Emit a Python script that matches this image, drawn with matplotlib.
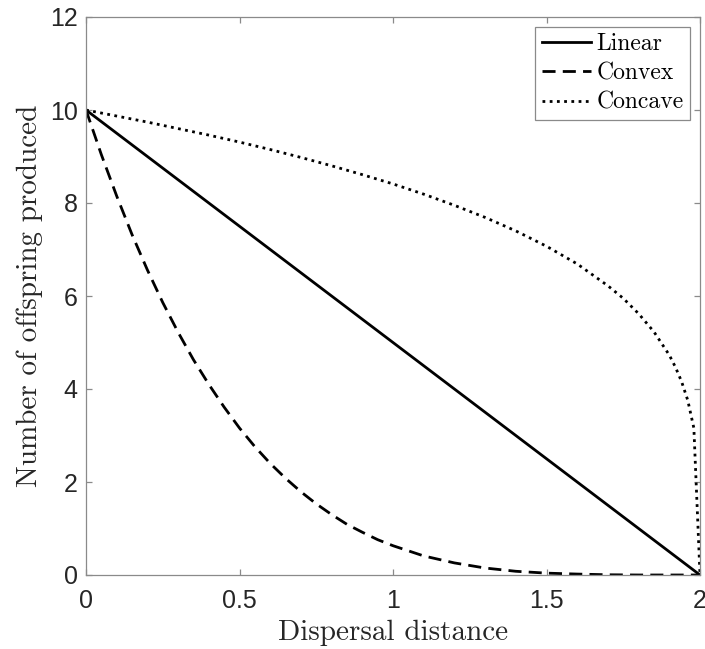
import matplotlib
matplotlib.use("Agg")
import matplotlib.pyplot as plt

# Data
x_linear = [0.0, 2.0]
y_linear = [10.0, 0.0]

x_convex = [0.0, 0.05, 0.1, 0.15, 0.2, 0.25, 0.3, 0.35, 0.4, 0.45, 0.5, 0.55, 0.6, 0.65,
            0.7, 0.75, 0.8, 0.85, 0.9, 0.95, 1.0, 1.1, 1.2, 1.3, 1.4, 1.5, 1.6, 1.7,
            1.8, 1.9, 2.0]
y_convex = [10.0, 9.04, 8.15, 7.32, 6.56, 5.86, 5.22, 4.63, 4.10, 3.61, 3.16, 2.76, 2.40, 2.08,
            1.79, 1.53, 1.30, 1.09, 0.92, 0.76, 0.63, 0.41, 0.26, 0.15, 0.08, 0.04, 0.02, 0.005,
            0.0, 0.0, 0.0]

x_concave = [0.0, 0.1, 0.2, 0.3, 0.4, 0.5, 0.6, 0.7, 0.8, 0.9, 1.0, 1.1, 1.2, 1.3, 1.4,
             1.5, 1.6, 1.7, 1.75, 1.8, 1.85, 1.9, 1.92, 1.94, 1.96, 1.98, 2.0]
y_concave = [10.0, 9.87, 9.74, 9.60, 9.46, 9.31, 9.15, 8.98, 8.80, 8.61, 8.41, 8.19, 7.95, 7.69, 7.40,
             7.07, 6.69, 6.22, 5.95, 5.62, 5.23, 4.73, 4.47, 4.16, 3.76, 3.16, 0.0]

series_labels = ["Linear", "Convex", "Concave"]
x_ticks = [0, 0.5, 1, 1.5, 2]
x_ticklabels = ["0", "0.5", "1", "1.5", "2"]
y_ticks = [0, 2, 4, 6, 8, 10, 12]
y_ticklabels = ["0", "2", "4", "6", "8", "10", "12"]

fig = plt.figure(figsize=(7.05, 6.49), dpi=100)
ax = fig.add_axes([86/705, (649-575)/649, (700-86)/705, (575-17)/649])

lw = 2.0
ax.plot(x_linear, y_linear, color="black", lw=lw, linestyle="-", label=series_labels[0])
ax.plot(x_convex, y_convex, color="black", lw=lw, linestyle=(0, (4.7, 2.6)), label=series_labels[1])
ax.plot(x_concave, y_concave, color="black", lw=lw, linestyle=(0, (1.0, 1.6)), label=series_labels[2])

ax.set_xlim(0, 2)
ax.set_ylim(0, 12)
ax.set_xticks(x_ticks)
ax.set_xticklabels(x_ticklabels)
ax.set_yticks(y_ticks)
ax.set_yticklabels(y_ticklabels)

axcol = "#8a8a8a"
for s in ax.spines.values():
    s.set_color(axcol)
    s.set_linewidth(0.9)
ax.tick_params(direction="in", length=4.5, width=0.9, color=axcol,
               top=True, right=True, labelsize=18, labelcolor="#262626", pad=6)
ax.tick_params(axis="x", pad=10)
for lab in ax.get_xticklabels() + ax.get_yticklabels():
    lab.set_family("Liberation Sans")

ax.set_xlabel("Dispersal distance", fontsize=21, family="cmr10", color="#262626", labelpad=5)
ax.set_ylabel("Number of offspring produced", fontsize=21, family="cmr10", color="#262626", labelpad=5)

leg = ax.legend(loc="upper right", prop={"family": "cmr10", "size": 17}, fancybox=False,
                framealpha=1, edgecolor=axcol, handlelength=2.1, handletextpad=0.22,
                borderpad=0.27, labelspacing=0.3, borderaxespad=0.42)
leg.get_frame().set_linewidth(0.9)

fig.savefig("out.png", dpi=100)
